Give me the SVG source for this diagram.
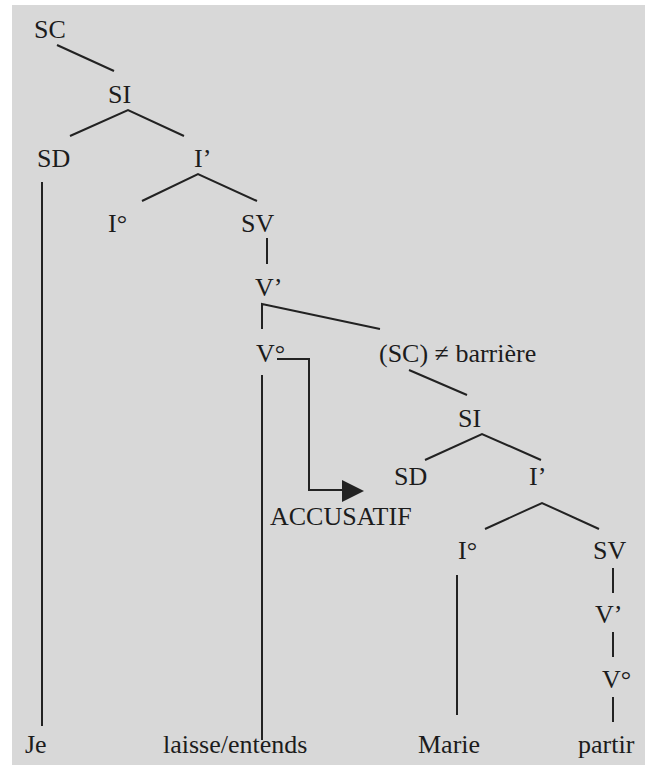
<svg xmlns="http://www.w3.org/2000/svg" width="645" height="767" viewBox="0 0 645 767">
<style>
text{font-family:"Liberation Serif","Tinos","DejaVu Serif","Times New Roman",serif;font-size:26px;fill:#1c1c1c}
.e{stroke:#222;stroke-width:2;fill:none}
.h{fill:#222;stroke:none}
</style>
<rect x="0" y="0" width="645" height="767" fill="#ffffff"/>
<rect x="12" y="5" width="633" height="760" fill="#d8d8d8"/>
<g id="connectors">
<line class="e" x1="57" y1="45" x2="114" y2="71"/>
<polyline class="e" points="70,136 128,110 184,136"/>
<polyline class="e" points="142,201 198,174 257,201"/>
<line class="e" x1="42" y1="182" x2="42" y2="726"/>
<line class="e" x1="267" y1="238" x2="267" y2="264"/>
<polyline class="e" points="262,329 262,304 380,329"/>
<line class="e" x1="262" y1="375" x2="262" y2="740"/>
<polyline class="e" points="277,359 309,359 309,490 343,490"/>
<polygon class="h" points="342,480 364,491 342,502"/>
<line class="e" x1="409" y1="370" x2="467" y2="395"/>
<polyline class="e" points="425,460 482,434 541,460"/>
<polyline class="e" points="485,529 542,503 599,529"/>
<line class="e" x1="457" y1="575" x2="457" y2="715"/>
<line class="e" x1="613" y1="568" x2="613" y2="593"/>
<line class="e" x1="613" y1="632" x2="613" y2="657"/>
<line class="e" x1="613" y1="697" x2="613" y2="722"/>
</g>
<g font-family="Liberation Serif, serif">
<g id="SC"><text x="34" y="38">SC</text></g>
<g id="SI"><text x="108" y="103">SI</text></g>
<g id="SD"><text x="37" y="167">SD</text></g>
<g id="Ibar"><text x="194" y="167">I’</text></g>
<g id="Io"><text x="108" y="232">I°</text></g>
<g id="SV"><text x="241" y="232">SV</text></g>
<g id="Vbar"><text x="255" y="296">V’</text></g>
<g id="Vo"><text x="256" y="362">V°</text></g>
<g id="SC2"><text x="379" y="362">(SC) ≠ barrière</text></g>
<g id="SI2"><text x="458" y="427">SI</text></g>
<g id="SD2"><text x="394" y="485">SD</text></g>
<g id="Ibar2"><text x="529" y="485">I’</text></g>
<g id="Io2"><text x="458" y="559">I°</text></g>
<g id="SV2"><text x="593" y="559">SV</text></g>
<g id="Vbar2"><text x="595" y="623">V’</text></g>
<g id="Vo2"><text x="602" y="688">V°</text></g>
<g id="accusatif"><text x="270" y="525">ACCUSATIF</text></g>
<g id="je"><text x="25" y="753">Je</text></g>
<g id="laisse"><text x="163" y="753">laisse/entends</text></g>
<g id="marie"><text x="418" y="753">Marie</text></g>
<g id="partir"><text x="578" y="753">partir</text></g>
</g>
</svg>
